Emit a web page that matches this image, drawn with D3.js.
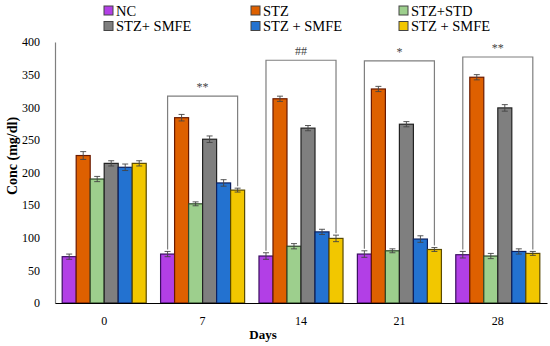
<!DOCTYPE html>
<html>
<head>
<meta charset="utf-8">
<script src="https://cdn.jsdelivr.net/npm/d3@7"></script>
<style>
  body { margin: 0; background: #fff; }
  svg text { font-family: "Times New Roman", "Liberation Serif", "DejaVu Serif", serif !important; }
</style>
</head>
<body>
<div id="chart"></div>
<script>
// data
var days = ["0", "7", "14", "21", "28"];
var groups = ["NC", "STZ", "STZ+STD", "STZ+ SMFE", "STZ + SMFE ", "STZ + SMFE  "];
var legendLabels = ["NC", "STZ", "STZ+STD", "STZ+ SMFE", "STZ + SMFE", "STZ + SMFE"];
var colors = ["#b23fe6", "#de6000", "#9dcf8d", "#7f7f7f", "#2372d0", "#f2c700"];
var strokes = ["#3a1060", "#6a1a00", "#2f4a2a", "#222222", "#0c2060", "#5a4a00"];

var valNC   = [71, 75, 72, 75, 74];
var valSTZ  = [226, 284, 313, 328, 346];
var valSTD  = [190, 152, 87, 80, 72];
var valGray = [214, 251, 268, 274, 299];
var valBlue = [208, 184, 109, 98, 79];
var valYel  = [214, 173, 99, 82, 76];

var errNC   = [4, 4, 5, 5, 5];
var errSTZ  = [6, 5, 4, 4, 4];
var errSTD  = [4, 3, 4, 3, 4];
var errGray = [4, 5, 4, 4, 5];
var errBlue = [5, 5, 4, 5, 4];
var errYel  = [4, 3, 5, 3, 3];

var yTicks = [0, 50, 100, 150, 200, 250, 300, 350, 400];

// significance brackets (day, label, bracket top value)
var sigDays   = ["7", "14", "21", "28"];
var sigLabels = ["**", "##", "*", "**"];
var sigTops   = [317, 372, 371, 377];

var series = [valNC, valSTZ, valSTD, valGray, valBlue, valYel];
var errors = [errNC, errSTZ, errSTD, errGray, errBlue, errYel];

var width = 550, height = 346;
var margin = { top: 42, right: 3, bottom: 43, left: 55 };
var serif = "'Times New Roman', 'Liberation Serif', serif";

var svg = d3.select("#chart").append("svg")
    .attr("width", width)
    .attr("height", height)
    .attr("font-family", serif);

var x0 = d3.scaleBand()
    .domain(days)
    .range([margin.left, width - margin.right])
    .paddingInner(0.146)
    .paddingOuter(0.073);

var x1 = d3.scaleBand()
    .domain(groups)
    .range([0, x0.bandwidth()])
    .padding(0);

var y = d3.scaleLinear()
    .domain([0, 400])
    .range([height - margin.bottom, margin.top]);

// rows of bar data
var rows = [];
days.forEach(function (d, i) {
    groups.forEach(function (g, j) {
        rows.push({ day: d, group: g, j: j, value: series[j][i], err: errors[j][i] });
    });
});

// bars
svg.append("g").selectAll("rect")
    .data(rows)
    .enter().append("rect")
    .attr("x", function (d) { return x0(d.day) + x1(d.group); })
    .attr("y", function (d) { return y(d.value); })
    .attr("width", x1.bandwidth())
    .attr("height", function (d) { return y(0) - y(d.value); })
    .attr("fill", function (d) { return colors[d.j]; })
    .attr("stroke", function (d) { return strokes[d.j]; })
    .attr("stroke-width", 1.2);

// error bars
var eb = svg.append("g").attr("stroke", "#444").attr("stroke-width", 0.9);
rows.forEach(function (d) {
    var cx = x0(d.day) + x1(d.group) + x1.bandwidth() / 2;
    eb.append("line")
        .attr("x1", cx).attr("x2", cx)
        .attr("y1", y(d.value - d.err)).attr("y2", y(d.value + d.err));
    eb.append("line")
        .attr("x1", cx - 3).attr("x2", cx + 3)
        .attr("y1", y(d.value + d.err)).attr("y2", y(d.value + d.err));
    eb.append("line")
        .attr("x1", cx - 3).attr("x2", cx + 3)
        .attr("y1", y(d.value - d.err)).attr("y2", y(d.value - d.err));
});

// axes
var yAxis = d3.axisLeft(y).tickValues(yTicks).tickSize(0).tickPadding(15);
var gy = svg.append("g")
    .attr("transform", "translate(" + margin.left + ",0)")
    .call(yAxis)
    .attr("font-family", serif)
    .attr("font-size", 12);
gy.select(".domain").attr("stroke", "#7f7f7f").attr("stroke-width", 1.2);
gy.selectAll("text").attr("fill", "#000");

var xAxis = d3.axisBottom(x0).tickSize(0).tickPadding(13);
var gx = svg.append("g")
    .attr("transform", "translate(0," + y(0) + ")")
    .call(xAxis)
    .attr("font-family", serif)
    .attr("font-size", 12);
gx.select(".domain").attr("stroke", "#000").attr("stroke-width", 1.2);
gx.selectAll("text").attr("fill", "#000");

// axis titles
svg.append("text")
    .attr("transform", "translate(17,156) rotate(-90)")
    .attr("text-anchor", "middle")
    .attr("font-size", 14)
    .attr("font-weight", "bold")
    .text("Conc (mg/dl)");

svg.append("text")
    .attr("x", 263)
    .attr("y", 339)
    .attr("text-anchor", "middle")
    .attr("font-size", 13)
    .attr("font-weight", "bold")
    .text("Days");

// significance brackets
var br = svg.append("g");
sigDays.forEach(function (d, k) {
    var i = days.indexOf(d);
    var lx = x0(d) + x1(groups[0]) + x1.bandwidth() / 2;
    var rx = x0(d) + x1(groups[5]) + x1.bandwidth() / 2;
    var ly = y(valNC[i] + errNC[i] + 3);
    var ry = y(valYel[i] + errYel[i] + 3);
    var ty = y(sigTops[k]);
    br.append("path")
        .attr("d", "M" + lx + "," + ly + "V" + ty + "H" + rx + "V" + ry)
        .attr("fill", "none")
        .attr("stroke", "#7f7f7f")
        .attr("stroke-width", 1.2);
    br.append("text")
        .attr("x", (lx + rx) / 2)
        .attr("y", ty - 5)
        .attr("text-anchor", "middle")
        .attr("font-size", 12)
        .attr("fill", "#444")
        .text(sigLabels[k]);
});

// legend
var legX = [104, 251, 399];
var legY = [10.5, 26];
var lg = svg.append("g");
legendLabels.forEach(function (name, j) {
    var col = j % 3, row = Math.floor(j / 3);
    var item = lg.append("g")
        .attr("transform", "translate(" + legX[col] + "," + legY[row] + ")");
    item.append("rect")
        .attr("x", 0).attr("y", -4.5)
        .attr("width", 9).attr("height", 9)
        .attr("fill", colors[j])
        .attr("stroke", "#444")
        .attr("stroke-width", 1);
    item.append("text")
        .attr("x", 12)
        .attr("y", 5)
        .attr("font-size", 14.5)
        .attr("fill", "#000")
        .text(name);
});
</script>
</body>
</html>
